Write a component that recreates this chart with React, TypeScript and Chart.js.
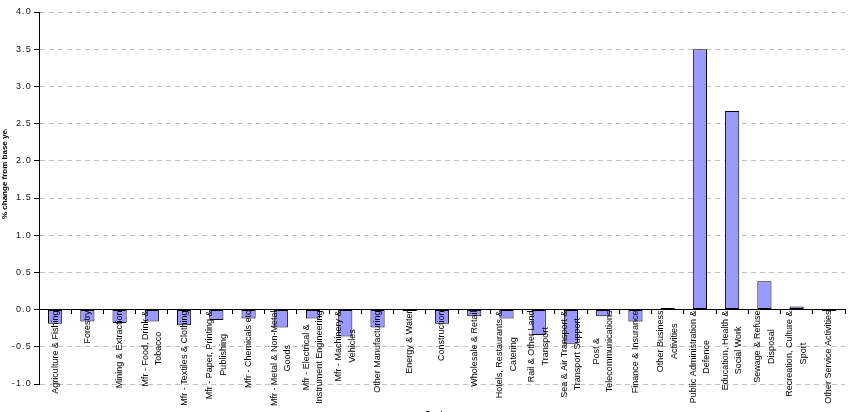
import { useEffect, useRef } from "react";
import { Chart, registerables } from "chart.js";

Chart.register(...registerables);

// Sectors (each entry is one wrapped label, one string per line)
const sectors: string[][] = [
  ["Agriculture & Fishing"],
  ["Forestry"],
  ["Mining & Extraction"],
  ["Mfr - Food, Drink &", "Tobacco"],
  ["Mfr - Textiles & Clothing"],
  ["Mfr - Paper, Printing &", "Publishing"],
  ["Mfr - Chemicals etc"],
  ["Mfr - Metal & Non-Metal", "Goods"],
  ["Mfr - Electrical &", "Instrument Engineering"],
  ["Mfr - Machinery &", "Vehicles"],
  ["Other Manufacturing"],
  ["Energy & Water"],
  ["Construction"],
  ["Wholesale & Retail"],
  ["Hotels, Restaurants &", "Catering"],
  ["Rail & Other Land", "Transport"],
  ["Sea & Air Transport &", "Transport Support"],
  ["Post &", "Telecommunications"],
  ["Finance & Insurance"],
  ["Other Business", "Activities"],
  ["Public Administration &", "Defence"],
  ["Education, Health &", "Social Work"],
  ["Sewage & Refuse", "Disposal"],
  ["Recreation, Culture &", "Sport"],
  ["Other Service Activities"],
];

// % change from base year, one value per sector
const changeFromBase: number[] = [
  -0.19, -0.16, -0.18, -0.16, -0.21, -0.14, -0.12, -0.24, -0.12, -0.36,
  -0.24, -0.02, -0.19, -0.09, -0.12, -0.34, -0.46, -0.09, -0.16, 0.02,
  3.5, 2.67, 0.38, 0.04, -0.02,
];

const yMin = -1;
const yMax = 4;
const yStep = 0.5;

const yTitle = "% change from base year";
const xTitle = "Sector";

const FONT = "'Liberation Sans', Arial, Helvetica, sans-serif";

// Slightly spaced-out numerals on the value axis.
const textSpacing = {
  id: "textSpacing",
  beforeDraw(chart: any) {
    (chart.ctx as any).letterSpacing = "1.2px";
  },
};

// Sector names: rotated, lines centred on each other and on the category,
// starting just under the zero line and drawn over the bars.
const sectorLabels = {
  id: "sectorLabels",
  afterDatasetsDraw(chart: any) {
    const { ctx } = chart;
    const xs = chart.scales.x;
    const ys = chart.scales.y;
    const axisY = ys.getPixelForValue(0);
    const labels = chart.data.labels as string[][];
    const lineStep = 13.5;
    ctx.save();
    (ctx as any).letterSpacing = "0px";
    ctx.font = `9px ${FONT}`;
    ctx.fillStyle = "#000";
    ctx.textAlign = "center";
    ctx.textBaseline = "middle";
    labels.forEach((lines, i) => {
      const cx = xs.getPixelForTick(i);
      const widest = Math.max(...lines.map((l) => ctx.measureText(l).width));
      const cy = axisY + 1 + widest / 2;
      lines.forEach((line, j) => {
        const x = cx + (j - (lines.length - 1) / 2) * lineStep;
        ctx.save();
        ctx.translate(x, cy);
        ctx.rotate(-Math.PI / 2);
        ctx.fillText(line, 0, 0);
        ctx.restore();
      });
    });
    ctx.restore();
  },
};

// Axis titles: the value title sits against the left edge, the sector title
// below the rotated sector names.
const axisTitles = {
  id: "axisTitles",
  afterDraw(chart: any) {
    const { ctx, chartArea } = chart;
    ctx.save();
    (ctx as any).letterSpacing = "0px";
    ctx.fillStyle = "#000";
    ctx.font = `bold 8px ${FONT}`;

    ctx.save();
    ctx.beginPath();
    ctx.rect(0, 129, 30, 260);
    ctx.clip();
    ctx.translate(5, 219);
    ctx.rotate(-Math.PI / 2);
    ctx.textAlign = "left";
    ctx.textBaseline = "middle";
    ctx.fillText(yTitle, 0, 0);
    ctx.restore();

    ctx.font = `bold 8.5px ${FONT}`;
    ctx.textAlign = "center";
    ctx.textBaseline = "top";
    ctx.fillText(xTitle, 438, chartArea.bottom + 26);
    ctx.restore();
  },
};

export default function App() {
  const canvasRef = useRef<HTMLCanvasElement | null>(null);

  useEffect(() => {
    const canvas = canvasRef.current;
    if (!canvas) return;
    Chart.defaults.font.family = FONT;

    const chart = new Chart(canvas, {
      type: "bar",
      data: {
        labels: sectors,
        datasets: [
          {
            data: changeFromBase,
            backgroundColor: "#9999FF",
            borderColor: "#000000",
            borderWidth: 1,
            borderSkipped: false,
            barPercentage: 0.44,
            categoryPercentage: 1.0,
          },
        ],
      },
      options: {
        responsive: false,
        animation: false,
        devicePixelRatio: 1,
        layout: { padding: { top: 12, right: 9, bottom: 28, left: 0 } },
        plugins: {
          legend: { display: false },
          tooltip: { enabled: false },
          title: { display: false },
        },
        scales: {
          x: {
            type: "category",
            position: { y: 0 } as any,
            offset: true,
            grid: {
              display: true,
              drawOnChartArea: false,
              drawTicks: true,
              tickLength: 4,
              color: "#000",
              offset: true,
            },
            border: { display: true, color: "#000", width: 1, z: 1 } as any,
            ticks: { display: false, autoSkip: false },
            afterFit: (scale: any) => {
              scale.height = 0;
            },
          },
          y: {
            min: yMin,
            max: yMax,
            ticks: {
              stepSize: yStep,
              padding: 2,
              color: "#111",
              font: { size: 9 },
              callback: (v: any) => Number(v).toFixed(1),
            },
            grid: {
              color: "#c0c0c0",
              tickColor: "#000",
              tickLength: 5,
              lineWidth: 1,
            },
            border: { display: true, color: "#000", width: 1, dash: [5, 4] },
            afterFit: (scale: any) => {
              scale.width = 39;
            },
          },
        },
      },
      plugins: [textSpacing, sectorLabels, axisTitles],
    });

    return () => chart.destroy();
  }, []);

  return (
    <div style={{ position: "fixed", left: 0, top: 0, width: 854, height: 412, background: "#fff" }}>
      <canvas ref={canvasRef} width={854} height={412} />
    </div>
  );
}
